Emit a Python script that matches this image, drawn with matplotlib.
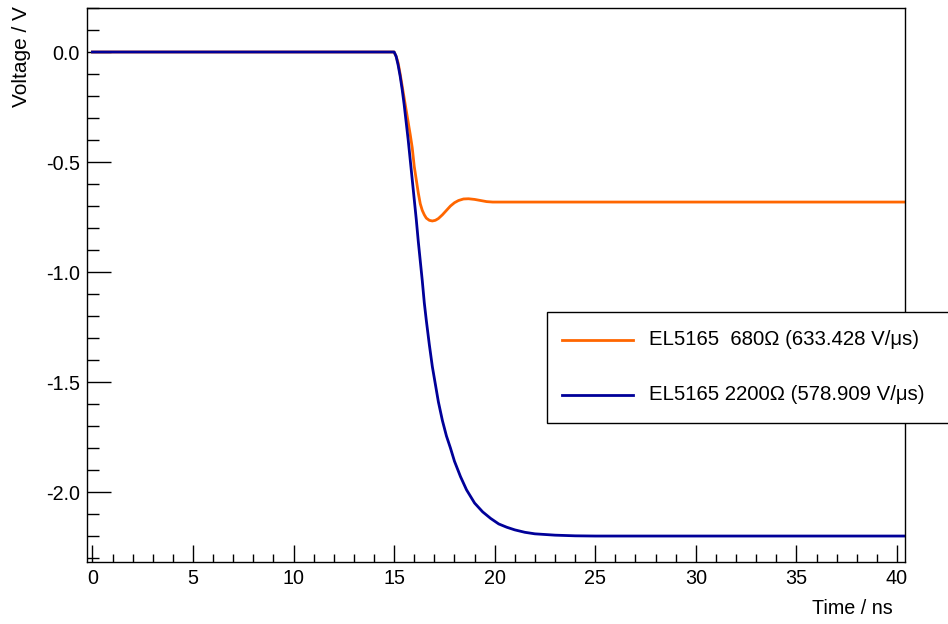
import matplotlib
matplotlib.use('Agg')
import numpy as np
import matplotlib.pyplot as plt
from matplotlib.patches import Rectangle
from matplotlib.lines import Line2D
from matplotlib.ticker import MultipleLocator, FormatStrFormatter

plt.rcParams['font.family'] = ['Liberation Sans', 'DejaVu Sans']

# step response, 680 Ohm feedback
t_680 = [0, 15.0, 15.1, 15.2, 15.3, 15.4, 15.5, 15.6, 15.7, 15.8, 15.9, 16.0,
         16.1, 16.2, 16.3, 16.4, 16.5, 16.6, 16.75, 16.9, 17.05, 17.2, 17.4,
         17.6, 17.8, 18.0, 18.2, 18.45, 18.7, 19.0, 19.3, 19.6, 19.9, 40.4]
v_680 = [0, 0, -0.02, -0.05, -0.10, -0.155, -0.21, -0.265, -0.32, -0.375, -0.435,
         -0.52, -0.58, -0.64, -0.69, -0.72, -0.74, -0.755, -0.765, -0.768, -0.765,
         -0.757, -0.74, -0.72, -0.70, -0.685, -0.675, -0.668, -0.667, -0.670,
         -0.675, -0.680, -0.682, -0.682]

# step response, 2200 Ohm feedback
t_2200 = [0, 15.0, 15.1, 15.2, 15.3, 15.4, 15.5, 15.6, 15.7, 15.8, 15.9, 16.0,
          16.1, 16.2, 16.3, 16.4, 16.5, 16.6, 16.75, 16.9, 17.05, 17.2, 17.4,
          17.6, 17.8, 18.0, 18.3, 18.6, 19.0, 19.4, 19.8, 20.2, 20.6, 21.0,
          21.5, 22.0, 23.0, 24.0, 25.0, 40.4]
v_2200 = [0, 0, -0.02, -0.06, -0.11, -0.17, -0.24, -0.32, -0.40, -0.49, -0.58,
          -0.67, -0.76, -0.86, -0.95, -1.04, -1.14, -1.22, -1.33, -1.43, -1.51,
          -1.59, -1.675, -1.745, -1.80, -1.86, -1.93, -1.99, -2.05, -2.09, -2.12,
          -2.145, -2.16, -2.172, -2.183, -2.19, -2.196, -2.199, -2.2, -2.2]

labels = ['EL5165  680Ω (633.428 V/μs)', 'EL5165 2200Ω (578.909 V/μs)']
colors = ['#ff6600', '#000099']

fig = plt.figure(figsize=(9.48, 6.24), dpi=100)
ax = fig.add_axes([87 / 948, 1 - 562 / 624, (905 - 87) / 948, (562 - 8) / 624])

ax.plot(t_680, v_680, color=colors[0], lw=2.0)
ax.plot(t_2200, v_2200, color=colors[1], lw=2.0)

ax.set_xlim(-0.27, 40.4)
ax.set_ylim(-2.318, 0.2)

ax.xaxis.set_major_locator(MultipleLocator(5))
ax.xaxis.set_minor_locator(MultipleLocator(1))
ax.yaxis.set_major_locator(MultipleLocator(0.5))
ax.yaxis.set_minor_locator(MultipleLocator(0.1))
ax.yaxis.set_major_formatter(FormatStrFormatter('%.1f'))

fs = 14.2
ax.tick_params(axis='both', which='both', direction='in', top=False, right=False,
               labelsize=fs, width=1.0)
ax.tick_params(axis='x', which='major', length=12, pad=5)
ax.tick_params(axis='x', which='minor', length=6)
ax.tick_params(axis='y', which='major', length=17, pad=5)
ax.tick_params(axis='y', which='minor', length=8.5)
for s in ax.spines.values():
    s.set_linewidth(1.0)

fig.text(893 / 948, 1 - 608 / 624, 'Time / ns', ha='right', va='center', fontsize=fs)
fig.text(22 / 948, 1 - 6 / 624, 'Voltage / V', ha='center', va='top',
         rotation=90, fontsize=15)

# legend box, hanging past the right edge of the frame
fig.patches.append(Rectangle((547 / 948, 1 - 423 / 624), 0.5, 111 / 624,
                             transform=fig.transFigure, facecolor='white',
                             edgecolor='black', lw=1.0, zorder=5))
for i, (lab, c) in enumerate(zip(labels, colors)):
    y = 1 - (340 + 55 * i) / 624
    fig.lines.append(Line2D([562 / 948, 633 / 948], [y, y], transform=fig.transFigure,
                            color=c, lw=2.0, zorder=6))
    fig.text(649 / 948, y, lab, ha='left', va='center', fontsize=14.7, zorder=6)

fig.savefig('out.png', dpi=100)
